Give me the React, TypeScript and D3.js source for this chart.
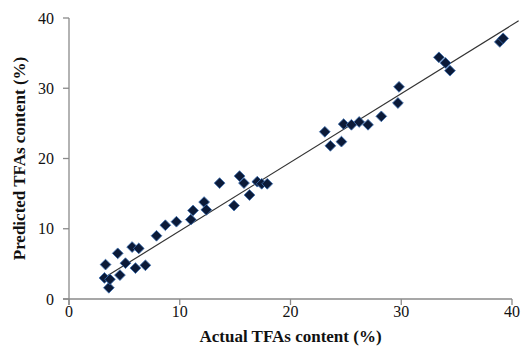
import React from "react";
import * as d3 from "d3";

const actual = [3.3, 3.6, 3.2, 3.7, 4.4, 4.6, 5.1, 5.7, 6.3, 6.0, 6.9, 7.9, 8.7, 9.7, 11.0, 11.2, 12.2, 12.4, 13.6, 14.9, 15.4, 15.8, 16.3, 17.0, 17.4, 17.9, 23.1, 23.6, 24.6, 24.8, 25.5, 26.2, 27.0, 28.2, 29.7, 29.8, 33.4, 34.0, 34.4, 38.9, 39.2];
const predicted = [4.9, 1.6, 3.0, 2.8, 6.5, 3.4, 5.1, 7.4, 7.2, 4.4, 4.8, 9.0, 10.5, 11.0, 11.3, 12.6, 13.8, 12.7, 16.5, 13.3, 17.5, 16.5, 14.8, 16.7, 16.4, 16.4, 23.8, 21.8, 22.4, 24.9, 24.8, 25.2, 24.8, 26.0, 27.9, 30.2, 34.4, 33.6, 32.5, 36.6, 37.1];
const fitX = [3.1, 40.6];
const fitY = [2.95, 39.6];
const ticks = [0, 10, 20, 30, 40];
const xTitle = "Actual TFAs content (%)";
const yTitle = "Predicted TFAs content (%)";

export default function App() {
  const W = 529, H = 352;
  const x = d3.scaleLinear().domain([0, 40]).range([69, 512]);
  const y = d3.scaleLinear().domain([0, 40]).range([299, 18]);
  const line = d3.line<number>().x((d) => x(fitX[d])).y((d) => y(fitY[d]));
  const sym = d3.symbol().type(d3.symbolSquare).size(58)();
  const axisColor = "#8a8a8a";
  const serif = "'Liberation Serif', 'Times New Roman', serif";
  return (
    <svg width={W} height={H} style={{ position: "absolute", left: 0, top: 0, background: "#fff" }}>
      <line x1={x(0) - 6} x2={x(40)} y1={y(0)} y2={y(0)} stroke={axisColor} strokeWidth={1.3} />
      <line x1={x(0)} x2={x(0)} y1={y(40)} y2={y(0) + 6} stroke={axisColor} strokeWidth={1.3} />
      {ticks.map((t) => (
        <g key={"x" + t}>
          <line x1={x(t)} x2={x(t)} y1={y(0)} y2={y(0) + 6} stroke={axisColor} strokeWidth={1.3} />
          <text x={x(t)} y={317} textAnchor="middle" fontFamily={serif} fontSize={16} fill="#111">{t}</text>
        </g>
      ))}
      {ticks.map((t) => (
        <g key={"y" + t}>
          <line x1={x(0) - 6} x2={x(0)} y1={y(t)} y2={y(t)} stroke={axisColor} strokeWidth={1.3} />
          <text x={54} y={y(t)} dy="0.35em" textAnchor="end" fontFamily={serif} fontSize={16} fill="#111">{t}</text>
        </g>
      ))}
      <path d={line([0, 1]) || ""} stroke="#333" strokeWidth={1.2} fill="none" />
      {actual.map((a, i) => (
        <path
          key={i}
          d={sym}
          transform={`translate(${x(a)},${y(predicted[i])}) rotate(45)`}
          fill="#0b1a38"
          stroke="#3d6fb0"
          strokeWidth={0.8}
        />
      ))}
      <text x={(x(0) + x(40)) / 2} y={342} textAnchor="middle" fontFamily={serif} fontWeight="bold" fontSize={17} fill="#111">{xTitle}</text>
      <text transform={`translate(25,${(y(0) + y(40)) / 2}) rotate(-90)`} textAnchor="middle" fontFamily={serif} fontWeight="bold" fontSize={17} fill="#111">{yTitle}</text>
    </svg>
  );
}
